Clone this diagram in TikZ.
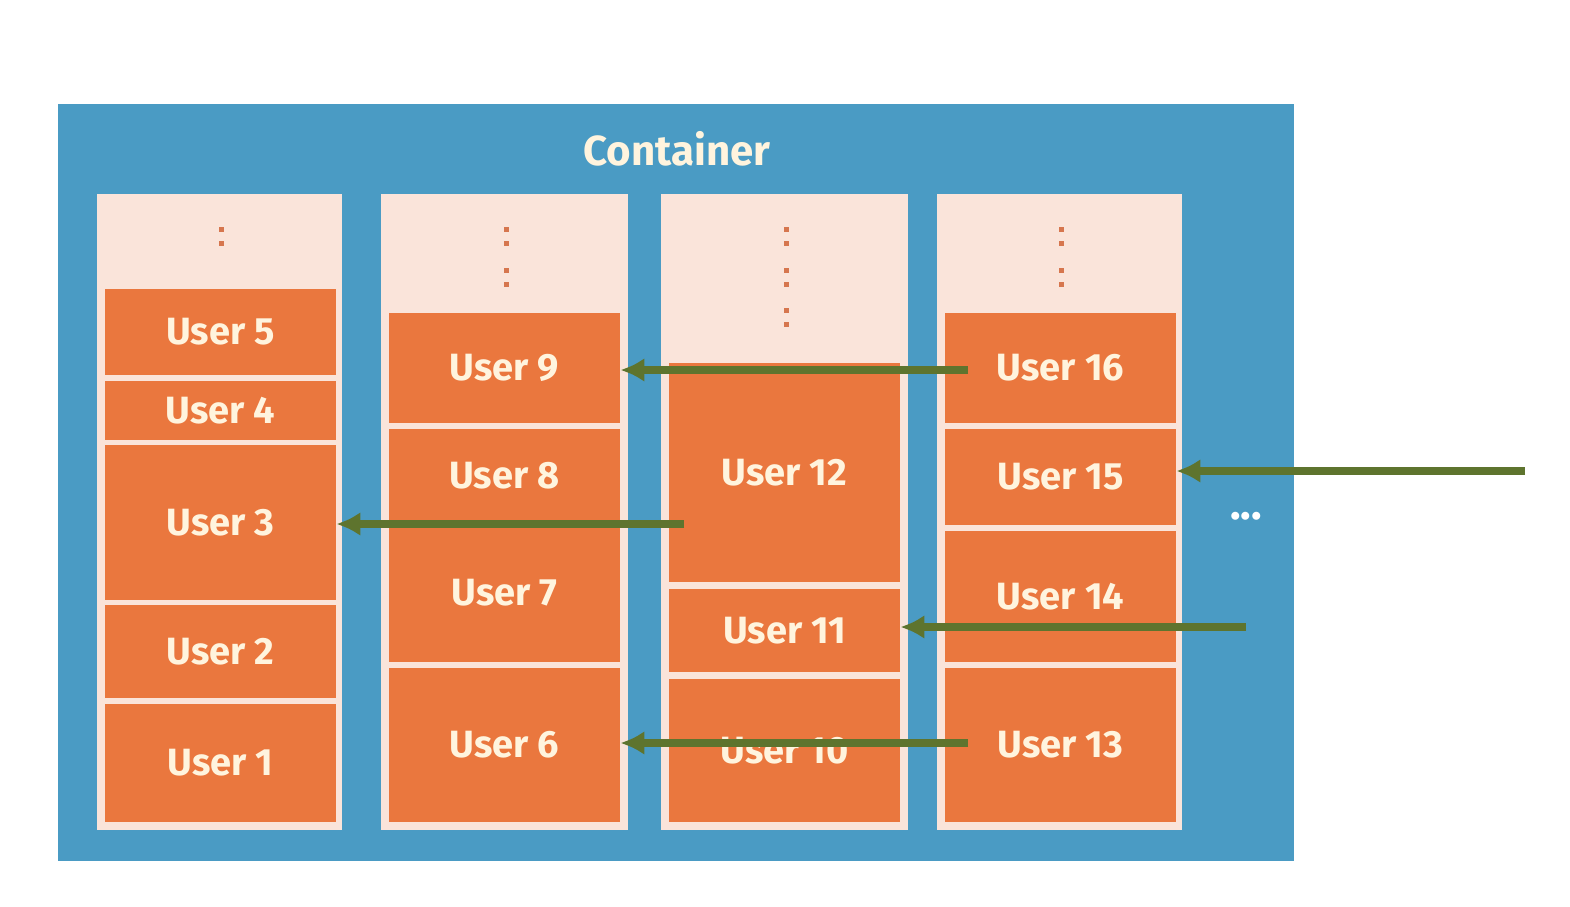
\documentclass[tikz,border=0pt]{standalone}
\usepackage{fontspec}
\setmainfont{Fira Sans}
\usetikzlibrary{arrows.meta}
\definecolor{boxblue}{RGB}{74,155,196}
\definecolor{colpink}{RGB}{250,228,218}
\definecolor{userorange}{RGB}{234,119,62}
\definecolor{usertext}{RGB}{255,244,222}
\definecolor{arrowgreen}{RGB}{94,116,46}
\definecolor{dotbrown}{RGB}{214,118,78}
\begin{document}
\begin{tikzpicture}[x=0.5pt, y=-0.5pt,
	user/.style={rectangle, fill=userorange, inner sep=0pt, minimum width=115.5pt,
		text=usertext, font=\fontsize{19}{21}\selectfont\bfseries},
	move/.style={draw=arrowgreen, line width=4pt, -{Latex[length=12pt,width=12pt]}}]
	\useasboundingbox (0,0) rectangle (1570,906);
	\fill [boxblue] (58,104) rectangle (1294,861);
	\node [text=usertext, font=\fontsize{21}{24}\selectfont\bfseries] (title) at (677,149) {Container};

	% columns
	\fill [colpink] (97,194) rectangle (342,830);
	\fill [colpink] (381,194) rectangle (628,830);
	\fill [colpink] (661,194) rectangle (908,830);
	\fill [colpink] (937,194) rectangle (1182,830);

	\foreach \x/\y in {221/229, 221/243,
		506/229, 506/243, 506/270, 506/284,
		786/229, 786/243, 786/270, 786/284, 786/310, 786/324,
		1061/229, 1061/243, 1061/270, 1061/284}
		\fill [dotbrown] (\x-2.5,\y-2.5) rectangle (\x+2.5,\y+2.5);

	% users
	\node [user, minimum height=43pt] (u5) at (220.5,332) {User 5};
	\node [user, minimum height=29.5pt] (u4) at (220.5,410.5) {User 4};
	\node [user, minimum height=77.5pt] (u3) at (220.5,522.5) {User 3};
	\node [user, minimum height=46.5pt] (u2) at (220.5,651.5) {User 2};
	\node [user, minimum height=59pt] (u1) at (220.5,763) {User 1};

	\node [user, minimum height=55pt] (u9) at (504.5,368) {User 9};
	\node [user, minimum height=47pt] (u8) at (504.5,476) {User 8};
	\node [user, minimum height=69.5pt] (u7) at (504.5,592.5) {User 7};
	\node [user, minimum height=77pt] (u6) at (504.5,745) {User 6};

	\node [user, minimum height=109.5pt] (u12) at (784.5,472.5) {User 12};
	\node [user, minimum height=41.5pt] (u11) at (784.5,630.5) {User 11};
	\node [user, minimum height=71.5pt] (u10) at (784.5,750.5) {User 10};

	\node [user, minimum height=55pt] (u16) at (1060.5,368) {User 16};
	\node [user, minimum height=48pt] (u15) at (1060.5,477) {User 15};
	\node [user, minimum height=65.5pt] (u14) at (1060.5,596.5) {User 14};
	\node [user, minimum height=77pt] (u13) at (1060.5,745) {User 13};

	\node [text=white, font=\fontsize{22}{24}\selectfont\bfseries] (more) at (1246,516) {...};

	% moves
	\coordinate (s9) at (968,370);
	\coordinate (s3) at (684,524);
	\coordinate (s15) at (1525,471);
	\coordinate (s11) at (1246,627);
	\coordinate (s6) at (968,743);
	\draw [move] (s9) -- (s9 -| u9.east);
	\draw [move] (s3) -- (s3 -| u3.east);
	\draw [move] (s15) -- (s15 -| u15.east);
	\draw [move] (s11) -- (s11 -| u11.east);
	\draw [move] (s6) -- (s6 -| u6.east);
\end{tikzpicture}
\end{document}
